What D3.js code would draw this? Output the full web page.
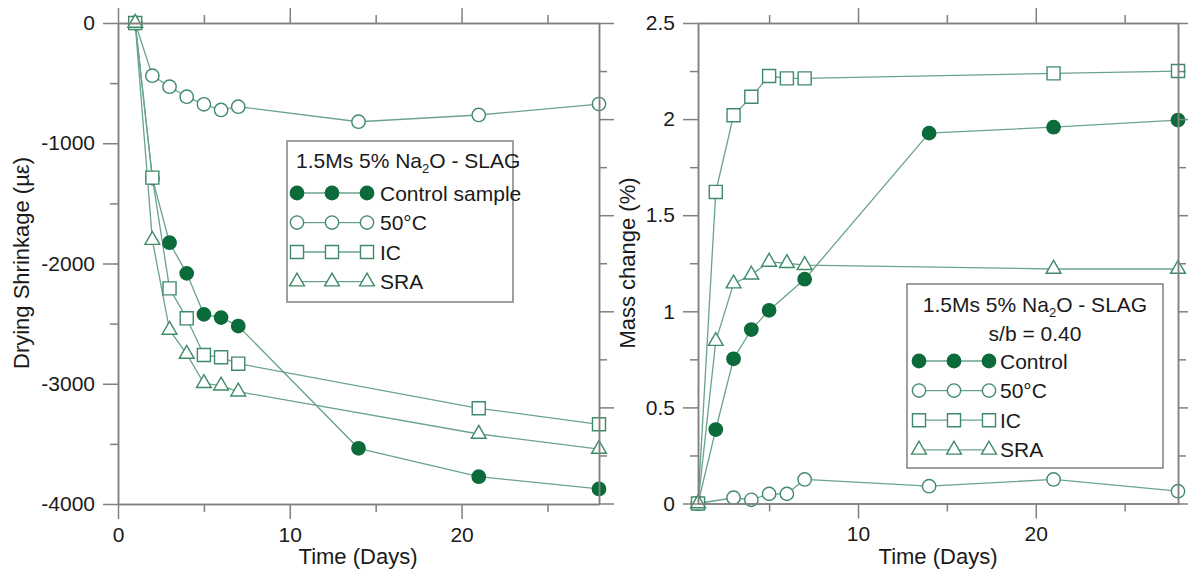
<!DOCTYPE html>
<html>
<head>
<meta charset="utf-8">
<script src="https://cdn.jsdelivr.net/npm/d3@7"></script>
<style>
  body { margin: 0; background: #fff; }
  svg { font-family: "Liberation Sans", Arial, sans-serif; }
  .axis path, .axis line { stroke: #808080; stroke-width: 1.5px; }
  .axis text { font-size: 21px; fill: #1a1a1a; font-family: "Liberation Sans", Arial, sans-serif; }
</style>
</head>
<body>
<div id="chart"></div>
<script>
// ---- data: drying shrinkage (left) ----
const shrinkControlDays = [1, 2, 3, 4, 5, 6, 7, 14, 21, 28];
const shrinkControl = [0, -1290, -1827, -2082, -2423, -2450, -2520, -3537, -3773, -3875];
const shrink50Days = [1, 2, 3, 4, 5, 6, 7, 14, 21, 28];
const shrink50 = [0, -438, -530, -613, -676, -723, -696, -821, -765, -674];
const shrinkICDays = [1, 2, 3, 4, 5, 6, 7, 21, 28];
const shrinkIC = [0, -1286, -2207, -2456, -2761, -2780, -2833, -3204, -3337];
const shrinkSRADays = [1, 2, 3, 4, 5, 6, 7, 21, 28];
const shrinkSRA = [0, -1805, -2553, -2753, -2996, -3016, -3066, -3418, -3543];

// ---- data: mass change (right) ----
const massControlDays = [1, 2, 3, 4, 5, 7, 14, 21, 28];
const massControl = [0, 0.385, 0.753, 0.905, 1.005, 1.167, 1.927, 1.958, 1.995];
const mass50Days = [1, 3, 4, 5, 6, 7, 14, 21, 28];
const mass50 = [0, 0.03, 0.019, 0.05, 0.05, 0.125, 0.09, 0.125, 0.064];
const massICDays = [1, 2, 3, 4, 5, 6, 7, 21, 28];
const massIC = [0, 1.621, 2.02, 2.116, 2.224, 2.212, 2.212, 2.238, 2.25];
const massSRADays = [1, 2, 3, 4, 5, 6, 7, 21, 28];
const massSRA = [0, 0.845, 1.144, 1.19, 1.257, 1.25, 1.24, 1.22, 1.22];

// ---- ticks ----
const shrinkMajor = [0, -1000, -2000, -3000, -4000];
const shrinkMinor = [-500, -1500, -2500, -3500];
const massMajor = [0, 0.5, 1, 1.5, 2, 2.5];
const massMinor = [0.25, 0.75, 1.25, 1.75, 2.25];
const dayMajorLeft = [0, 10, 20];
const dayMajorRight = [10, 20];
const dayMinor = [5, 15, 25];

const leftLegendLabels = ["Control sample", "50°C", "IC", "SRA"];
const rightLegendLabels = ["Control", "50°C", "IC", "SRA"];

const W = 1188, H = 580;
const FILL = "#0b6b3a", STROKE = "#3f8a68", LINE = "#6aa38d";

const svg = d3.select("#chart").append("svg").attr("width", W).attr("height", H);

const xL = d3.scaleLinear().domain([0, 28]).range([118, 599]);
const yL = d3.scaleLinear().domain([-4000, 0]).range([504, 23]);
const xR = d3.scaleLinear().domain([1, 28]).range([698, 1178]);
const yR = d3.scaleLinear().domain([0, 2.5]).range([503.5, 23]);

const kinds = [
  { type: d3.symbolCircle, size: 140, fill: FILL, stroke: FILL },
  { type: d3.symbolCircle, size: 140, fill: "#fff", stroke: STROKE },
  { type: d3.symbolSquare, size: 170, fill: "#fff", stroke: STROKE },
  { type: d3.symbolTriangle, size: 95, fill: "#fff", stroke: STROKE }
];

const plainNum = d => String(d); // keeps ascii hyphen like the original

function drawAxes(g, x, y, xMajor, yMajor, rightScale) {
  function ax(gen, vals, size, tr, labels) {
    const a = gen.tickValues(vals).tickSize(size).tickSizeOuter(0).tickPadding(8);
    a.tickFormat(labels ? plainNum : "");
    g.append("g").attr("class", "axis").attr("transform", tr).call(a);
  }
  const [x0, x1] = x.range(), [y0, y1] = y.range();
  // left
  ax(d3.axisLeft(y), yMajor, 15, `translate(${x0},0)`, true);
  ax(d3.axisLeft(y), y === yL ? shrinkMinor : massMinor, 8, `translate(${x0},0)`, false);
  // bottom
  ax(d3.axisBottom(x), xMajor, 15, `translate(0,${y0})`, true);
  ax(d3.axisBottom(x), dayMinor, 8, `translate(0,${y0})`, false);
  // top
  ax(d3.axisTop(x), xMajor, 15, `translate(0,${y1})`, false);
  ax(d3.axisTop(x), dayMinor, 8, `translate(0,${y1})`, false);
  // right (mass-change ticks on both panels, as in the original)
  ax(d3.axisRight(rightScale), massMajor, 15, `translate(${x1},0)`, false);
  ax(d3.axisRight(rightScale), massMinor, 8, `translate(${x1},0)`, false);
}

function drawSeries(g, x, y, series) {
  series.forEach(s => {
    const pts = s.days.map((d, j) => [d, s.vals[j]]);
    g.append("path")
      .attr("d", d3.line().x(p => x(p[0])).y(p => y(p[1]))(pts))
      .attr("fill", "none").attr("stroke", LINE).attr("stroke-width", 1.3);
  });
  series.forEach((s, i) => {
    const k = kinds[i];
    const pts = s.days.map((d, j) => [d, s.vals[j]]);
    g.selectAll(null).data(pts).enter().append("path")
      .attr("d", d3.symbol().type(k.type).size(k.size))
      .attr("transform", p => `translate(${x(p[0])},${y(p[1])})`)
      .attr("fill", k.fill).attr("stroke", k.stroke).attr("stroke-width", 1.4);
  });
}

function titleText(x, y, anchor) {
  const el = svg.append("text").attr("x", x).attr("y", y).attr("text-anchor", anchor)
    .attr("font-size", 21).attr("fill", "#1a1a1a");
  el.append("tspan").text("1.5Ms 5% Na");
  el.append("tspan").attr("font-size", 13).attr("dy", 5).text("2");
  el.append("tspan").attr("dy", -5).text("O - SLAG");
}

function legend(x, y, w, h, rows, rowY, mx, tx) {
  svg.append("rect").attr("x", x).attr("y", y).attr("width", w).attr("height", h)
    .attr("fill", "#fff").attr("stroke", "#808080").attr("stroke-width", 1.5);
  rows.forEach((lab, i) => {
    const k = kinds[i], cy = rowY[i];
    svg.append("line").attr("x1", mx[0]).attr("x2", mx[2]).attr("y1", cy).attr("y2", cy)
      .attr("stroke", LINE).attr("stroke-width", 1.3);
    mx.forEach(m => {
      svg.append("path").attr("d", d3.symbol().type(k.type).size(k.size)())
        .attr("transform", `translate(${m},${cy})`)
        .attr("fill", k.fill).attr("stroke", k.stroke).attr("stroke-width", 1.4);
    });
    svg.append("text").attr("x", tx).attr("y", cy).attr("dy", "0.36em")
      .attr("font-size", 21).attr("fill", "#1a1a1a").text(lab);
  });
}

function axisTitle(text, x, y, rotate) {
  svg.append("text")
    .attr("transform", `translate(${x},${y})` + (rotate ? " rotate(-90)" : ""))
    .attr("text-anchor", "middle").attr("font-size", 22).attr("fill", "#1a1a1a")
    .text(text);
}

// ---- left panel ----
const gL = svg.append("g");
drawSeries(gL, xL, yL, [
  { days: shrinkControlDays, vals: shrinkControl },
  { days: shrink50Days, vals: shrink50 },
  { days: shrinkICDays, vals: shrinkIC },
  { days: shrinkSRADays, vals: shrinkSRA }
]);
drawAxes(gL, xL, yL, dayMajorLeft, shrinkMajor, yR);
axisTitle("Drying Shrinkage (µε)", 29, 263, true);
axisTitle("Time (Days)", 358, 564, false);

legend(287, 141, 226, 161, leftLegendLabels, [193, 222.6, 252, 281.6], [297, 332, 367], 380);
titleText(296, 168, "start");

// ---- right panel ----
const gR = svg.append("g");
drawSeries(gR, xR, yR, [
  { days: massControlDays, vals: massControl },
  { days: mass50Days, vals: mass50 },
  { days: massICDays, vals: massIC },
  { days: massSRADays, vals: massSRA }
]);
drawAxes(gR, xR, yR, dayMajorRight, massMajor, yR);
axisTitle("Mass change (%)", 635, 263, true);
axisTitle("Time (Days)", 938, 564, false);

legend(907, 284, 256, 184, rightLegendLabels, [361, 390.6, 420.2, 449.8], [919, 954, 989], 1000);
titleText(1035, 312, "middle");
svg.append("text").attr("x", 1035).attr("y", 341).attr("text-anchor", "middle")
  .attr("font-size", 21).attr("fill", "#1a1a1a").text("s/b = 0.40");
</script>
</body>
</html>
